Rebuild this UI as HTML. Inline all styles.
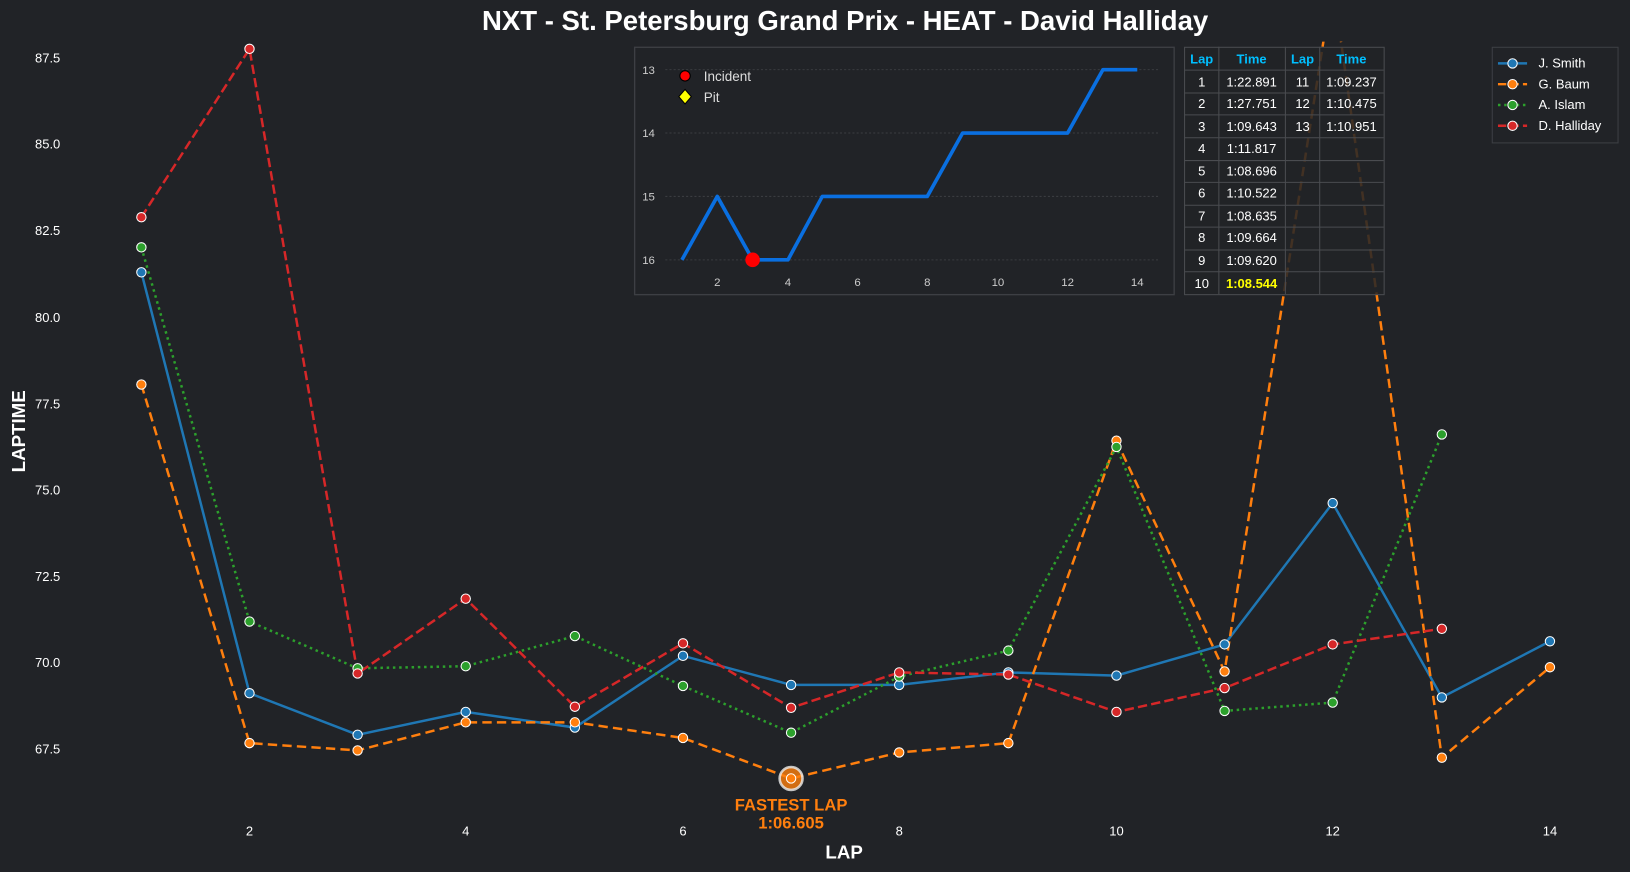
<!DOCTYPE html>
<html><head><meta charset="utf-8"><style>
html,body{margin:0;padding:0;background:#212327;}
svg{display:block;font-family:"Liberation Sans",Arial,sans-serif;}
</style></head><body>
<svg width="1630" height="872" viewBox="0 0 1568 839" preserveAspectRatio="none" xmlns="http://www.w3.org/2000/svg">
<rect width="1568" height="839" fill="#212327"/>
<text x="813" y="29" text-anchor="middle" font-size="26.5" font-weight="bold" fill="#fff">NXT - St. Petersburg Grand Prix - HEAT - David Halliday</text>
<g font-size="12.5" fill="#fff" text-anchor="end">
<text x="58" y="60">87.5</text><text x="58" y="143">85.0</text><text x="58" y="226">82.5</text>
<text x="58" y="310">80.0</text><text x="58" y="393">77.5</text><text x="58" y="476">75.0</text>
<text x="58" y="559">72.5</text><text x="58" y="642">70.0</text><text x="58" y="725">67.5</text>
</g>
<g font-size="12.5" fill="#fff" text-anchor="middle">
<text x="240" y="804">2</text><text x="448" y="804">4</text><text x="657" y="804">6</text>
<text x="865" y="804">8</text><text x="1074" y="804">10</text><text x="1282" y="804">12</text><text x="1491" y="804">14</text>
</g>
<text x="812" y="826" text-anchor="middle" font-size="18" font-weight="bold" fill="#fff">LAP</text>
<text transform="translate(24,415) rotate(-90)" text-anchor="middle" font-size="18" font-weight="bold" fill="#fff">LAPTIME</text>
<defs><clipPath id="pc"><rect x="80" y="40" width="1480" height="760"/></clipPath></defs>
<g clip-path="url(#pc)" fill="none" stroke-width="2.4">
<polyline stroke="#1f77b4" points="136,262 240,667 344,707 448,685 553,700 657,631 761,659 865,659 970,647 1074,650 1178,620 1282,484 1387,671 1491,617"/>
<polyline stroke="#ff7f0e" stroke-dasharray="9,5" points="136,370 240,715 344,722 448,695 553,695 657,710 761,749 865,724 970,715 1074,424 1178,646 1282,-17 1387,729 1491,642"/>
<polyline stroke="#2ca02c" stroke-dasharray="2.4,3.6" points="136,238 240,598 344,643 448,641 553,612 657,660 761,705 865,651 970,626 1074,430 1178,684 1282,676 1387,418"/>
<polyline stroke="#d62728" stroke-dasharray="9,4" points="136,209 240,47 344,648 448,576 553,680 657,619 761,681 865,647 970,649 1074,685 1178,662 1282,620 1387,605"/>
</g>
<g stroke="#fff" stroke-width="1">
<g fill="#1f77b4"><circle cx="136" cy="262" r="4.5"/><circle cx="240" cy="667" r="4.5"/><circle cx="344" cy="707" r="4.5"/><circle cx="448" cy="685" r="4.5"/><circle cx="553" cy="700" r="4.5"/><circle cx="657" cy="631" r="4.5"/><circle cx="761" cy="659" r="4.5"/><circle cx="865" cy="659" r="4.5"/><circle cx="970" cy="647" r="4.5"/><circle cx="1074" cy="650" r="4.5"/><circle cx="1178" cy="620" r="4.5"/><circle cx="1282" cy="484" r="4.5"/><circle cx="1387" cy="671" r="4.5"/><circle cx="1491" cy="617" r="4.5"/></g>
<g fill="#ff7f0e"><circle cx="136" cy="370" r="4.5"/><circle cx="240" cy="715" r="4.5"/><circle cx="344" cy="722" r="4.5"/><circle cx="448" cy="695" r="4.5"/><circle cx="553" cy="695" r="4.5"/><circle cx="657" cy="710" r="4.5"/><circle cx="865" cy="724" r="4.5"/><circle cx="970" cy="715" r="4.5"/><circle cx="1074" cy="424" r="4.5"/><circle cx="1178" cy="646" r="4.5"/><circle cx="1387" cy="729" r="4.5"/><circle cx="1491" cy="642" r="4.5"/></g>
<g fill="#2ca02c"><circle cx="136" cy="238" r="4.5"/><circle cx="240" cy="598" r="4.5"/><circle cx="344" cy="643" r="4.5"/><circle cx="448" cy="641" r="4.5"/><circle cx="553" cy="612" r="4.5"/><circle cx="657" cy="660" r="4.5"/><circle cx="761" cy="705" r="4.5"/><circle cx="865" cy="651" r="4.5"/><circle cx="970" cy="626" r="4.5"/><circle cx="1074" cy="430" r="4.5"/><circle cx="1178" cy="684" r="4.5"/><circle cx="1282" cy="676" r="4.5"/><circle cx="1387" cy="418" r="4.5"/></g>
<g fill="#d62728"><circle cx="136" cy="209" r="4.5"/><circle cx="240" cy="47" r="4.5"/><circle cx="344" cy="648" r="4.5"/><circle cx="448" cy="576" r="4.5"/><circle cx="553" cy="680" r="4.5"/><circle cx="657" cy="619" r="4.5"/><circle cx="761" cy="681" r="4.5"/><circle cx="865" cy="647" r="4.5"/><circle cx="970" cy="649" r="4.5"/><circle cx="1074" cy="685" r="4.5"/><circle cx="1178" cy="662" r="4.5"/><circle cx="1282" cy="620" r="4.5"/><circle cx="1387" cy="605" r="4.5"/></g>
</g>
<circle cx="761" cy="749" r="11" fill="#ff7f0e" fill-opacity="0.8" stroke="#eee" stroke-width="2.5" stroke-opacity="0.8"/>
<circle cx="761" cy="749" r="4.5" fill="#ff7f0e" stroke="#fff" stroke-width="1"/>
<text x="761" y="780" text-anchor="middle" font-size="16" font-weight="bold" fill="#ff7f0e">FASTEST LAP</text>
<text x="761" y="797" text-anchor="middle" font-size="16" font-weight="bold" fill="#ff7f0e">1:06.605</text>

<!-- inset -->
<rect x="610.5" y="45.5" width="519" height="238" fill="#212327" stroke="#3d3f44" stroke-width="1.3"/>
<g stroke="#3a3c40" stroke-dasharray="2,2" stroke-width="1">
<line x1="640" y1="67" x2="1115" y2="67"/><line x1="640" y1="128" x2="1115" y2="128"/><line x1="640" y1="189" x2="1115" y2="189"/><line x1="640" y1="250" x2="1115" y2="250"/>
</g>
<g font-size="11" fill="#ccc">
<g text-anchor="end"><text x="630" y="71">13</text><text x="630" y="132">14</text><text x="630" y="193">15</text><text x="630" y="254">16</text></g>
<g text-anchor="middle"><text x="690" y="275">2</text><text x="758" y="275">4</text><text x="825" y="275">6</text><text x="892" y="275">8</text><text x="960" y="275">10</text><text x="1027" y="275">12</text><text x="1094" y="275">14</text></g>
</g>
<polyline fill="none" stroke="#0a6fe0" stroke-width="3.5" stroke-linejoin="round" points="656,250 690,189 724,250 758,250 791,189 825,189 859,189 892,189 926,128 960,128 993,128 1027,128 1061,67 1094,67"/>
<circle cx="724" cy="250" r="7" fill="#f00"/>
<circle cx="659" cy="73" r="5" fill="#f00" stroke="#000" stroke-width="1"/>
<text x="677" y="78" font-size="13" fill="#ddd">Incident</text>
<path d="M659,86 L665,93 L659,100 L653,93 Z" fill="#ff0" stroke="#000" stroke-width="1"/>
<text x="677" y="98" font-size="13" fill="#ddd">Pit</text>

<!-- table -->
<g stroke="#4a4c50" stroke-width="1">
<rect x="1139.5" y="45.5" width="192" height="238" fill="#212327" fill-opacity="0.85"/>
<line x1="1172.5" y1="45" x2="1172.5" y2="283"/><line x1="1236.5" y1="45" x2="1236.5" y2="283"/><line x1="1269.5" y1="45" x2="1269.5" y2="283"/>
<line x1="1139" y1="67.5" x2="1331" y2="67.5"/><line x1="1139" y1="89.5" x2="1331" y2="89.5"/><line x1="1139" y1="110.5" x2="1331" y2="110.5"/><line x1="1139" y1="132.5" x2="1331" y2="132.5"/><line x1="1139" y1="154.5" x2="1331" y2="154.5"/><line x1="1139" y1="175.5" x2="1331" y2="175.5"/><line x1="1139" y1="197.5" x2="1331" y2="197.5"/><line x1="1139" y1="218.5" x2="1331" y2="218.5"/><line x1="1139" y1="240.5" x2="1331" y2="240.5"/><line x1="1139" y1="261.5" x2="1331" y2="261.5"/>
</g>
<g font-size="12.5" text-anchor="middle">
<g fill="#00bfff" font-weight="bold"><text x="1156" y="61">Lap</text><text x="1204" y="61">Time</text><text x="1253" y="61">Lap</text><text x="1300" y="61">Time</text></g>
<g fill="#fff">
<text x="1156" y="83">1</text><text x="1204" y="83">1:22.891</text><text x="1253" y="83">11</text><text x="1300" y="83">1:09.237</text>
<text x="1156" y="104">2</text><text x="1204" y="104">1:27.751</text><text x="1253" y="104">12</text><text x="1300" y="104">1:10.475</text>
<text x="1156" y="126">3</text><text x="1204" y="126">1:09.643</text><text x="1253" y="126">13</text><text x="1300" y="126">1:10.951</text>
<text x="1156" y="147">4</text><text x="1204" y="147">1:11.817</text>
<text x="1156" y="169">5</text><text x="1204" y="169">1:08.696</text>
<text x="1156" y="190">6</text><text x="1204" y="190">1:10.522</text>
<text x="1156" y="212">7</text><text x="1204" y="212">1:08.635</text>
<text x="1156" y="233">8</text><text x="1204" y="233">1:09.664</text>
<text x="1156" y="255">9</text><text x="1204" y="255">1:09.620</text>
<text x="1156" y="277">10</text>
</g>
<text x="1204" y="277" fill="#ff0" font-weight="bold">1:08.544</text>
</g>

<!-- legend -->
<rect x="1435.5" y="45.5" width="121" height="92" fill="#212327" stroke="#3d3f44" stroke-width="1"/>
<g stroke-width="2.4">
<line x1="1441" y1="61" x2="1469" y2="61" stroke="#1f77b4"/>
<line x1="1441" y1="81" x2="1469" y2="81" stroke="#ff7f0e" stroke-dasharray="8,4"/>
<line x1="1441" y1="101" x2="1469" y2="101" stroke="#2ca02c" stroke-dasharray="2.4,3.6"/>
<line x1="1441" y1="121" x2="1469" y2="121" stroke="#d62728" stroke-dasharray="8,4"/>
</g>
<g stroke="#fff" stroke-width="1">
<circle cx="1455" cy="61" r="4.5" fill="#1f77b4"/><circle cx="1455" cy="81" r="4.5" fill="#ff7f0e"/>
<circle cx="1455" cy="101" r="4.5" fill="#2ca02c"/><circle cx="1455" cy="121" r="4.5" fill="#d62728"/>
</g>
<g font-size="12.5" fill="#fff">
<text x="1480" y="65">J. Smith</text><text x="1480" y="85">G. Baum</text><text x="1480" y="105">A. Islam</text><text x="1480" y="125">D. Halliday</text>
</g>
</svg>
</body></html>
